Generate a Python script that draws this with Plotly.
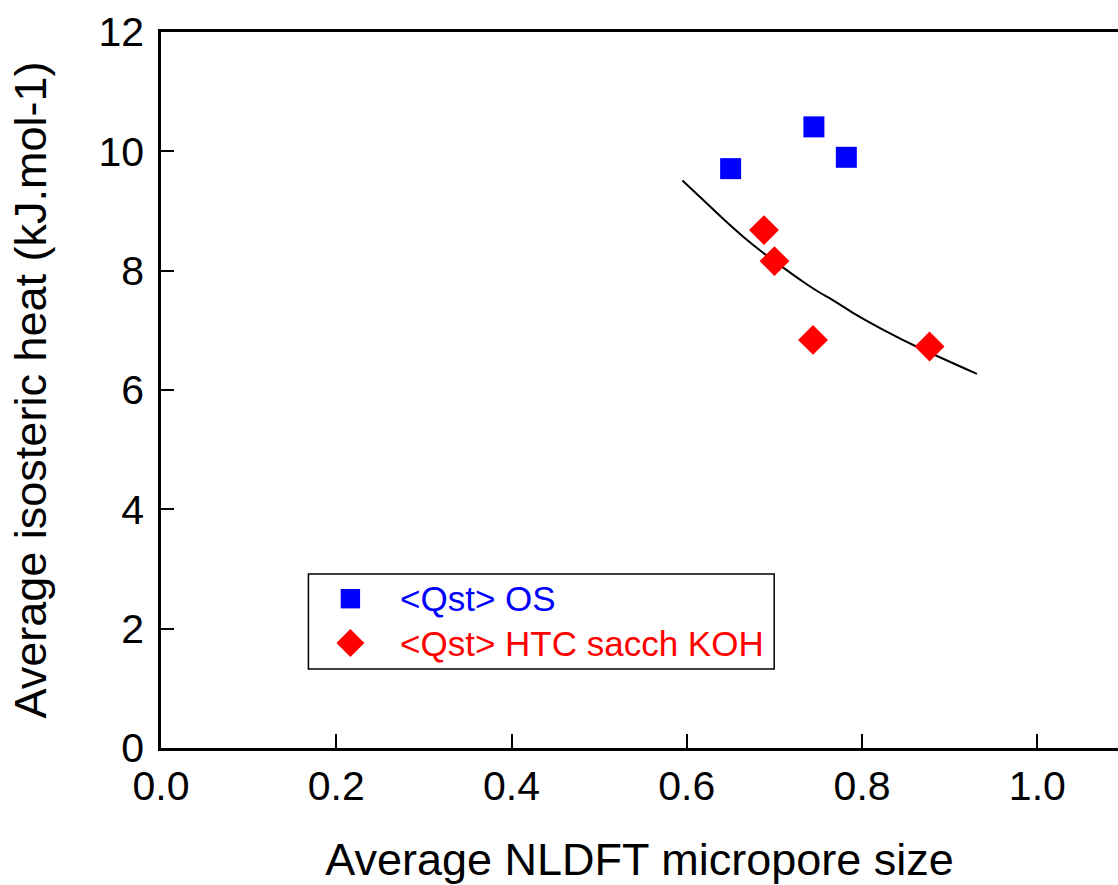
import plotly.graph_objects as go

# Data
os_x = [0.650, 0.745, 0.782]
os_y = [9.71, 10.41, 9.90]

htc_x = [0.688, 0.700, 0.744, 0.877]
htc_y = [8.68, 8.16, 6.84, 6.73]

fit_x = [0.595, 0.619, 0.642, 0.665, 0.687, 0.710, 0.733, 0.752, 0.763, 0.790, 0.828, 0.866, 0.931]
fit_y = [9.51, 9.18, 8.86, 8.56, 8.30, 8.05, 7.81, 7.63, 7.54, 7.29, 6.98, 6.70, 6.27]

x_ticks = [0.0, 0.2, 0.4, 0.6, 0.8, 1.0]
x_tick_labels = ["0.0", "0.2", "0.4", "0.6", "0.8", "1.0"]
y_ticks = [0, 2, 4, 6, 8, 10, 12]
y_tick_labels = ["0", "2", "4", "6", "8", "10", "12"]

legend_labels = ["&lt;Qst&gt; OS", "&lt;Qst&gt; HTC sacch KOH"]
legend_colors = ["#0000ff", "#ff0000"]

FONT = "Liberation Sans, Arial, Helvetica, sans-serif"
W, H = 1118, 885
ML, MR, MT, MB = 160.5, 0, 32, 137
PW, PH = W - ML - MR, H - MT - MB


def px_x(p):
    return (p - ML) / PW


def px_y(p):
    return (H - MB - p) / PH


fig = go.Figure()
fig.add_trace(go.Scatter(
    x=fit_x, y=fit_y, mode="lines",
    line=dict(color="black", width=2, shape="spline", smoothing=0.4),
    showlegend=False, hoverinfo="skip"))
fig.add_trace(go.Scatter(
    x=os_x, y=os_y, mode="markers", name="<Qst> OS", showlegend=False,
    marker=dict(symbol="square", size=21, color=legend_colors[0], line=dict(width=0))))
fig.add_trace(go.Scatter(
    x=htc_x, y=htc_y, mode="markers", name="<Qst> HTC sacch KOH", showlegend=False,
    marker=dict(symbol="diamond", size=23, color=legend_colors[1], line=dict(width=0))))

shapes = []
# legend frame
shapes.append(dict(type="rect", xref="paper", yref="paper",
                   x0=px_x(308), x1=px_x(774), y0=px_y(669), y1=px_y(574),
                   line=dict(color="black", width=1.5), fillcolor="white", layer="above"))
# legend symbols
cx, cy1, cy2 = 350, 598.7, 643
hs = 9.7
shapes.append(dict(type="rect", xref="paper", yref="paper",
                   x0=px_x(cx - hs), x1=px_x(cx + hs), y0=px_y(cy1 + hs), y1=px_y(cy1 - hs),
                   line=dict(width=0), fillcolor=legend_colors[0], layer="above"))
hd = 14
shapes.append(dict(type="path", xref="paper", yref="paper",
                   path=f"M {px_x(cx - hd)},{px_y(cy2)} L {px_x(cx)},{px_y(cy2 - hd)} "
                        f"L {px_x(cx + hd)},{px_y(cy2)} L {px_x(cx)},{px_y(cy2 + hd)} Z",
                   line=dict(width=0), fillcolor=legend_colors[1], layer="above"))

annotations = []
for lab, col, cy in zip(legend_labels, legend_colors, [cy1, cy2]):
    annotations.append(dict(
        text=lab, xref="paper", yref="paper", x=px_x(398), y=px_y(cy),
        xanchor="left", yanchor="middle", showarrow=False,
        font=dict(size=35, family=FONT, color=col)))

fig.update_layout(
    width=W, height=H,
    margin=dict(l=ML, r=MR, t=MT, b=MB, autoexpand=False),
    paper_bgcolor="white", plot_bgcolor="white",
    font=dict(family=FONT, color="black"),
    showlegend=False,
    shapes=shapes,
    annotations=annotations,
    xaxis=dict(
        range=[0, 1.092], tickmode="array", tickvals=x_ticks, ticktext=x_tick_labels,
        ticks="inside", ticklen=14, tickwidth=2, tickcolor="black",
        showline=True, linecolor="black", linewidth=2.5, mirror=True,
        showgrid=False, zeroline=False, automargin=False,
        tickfont=dict(size=41, family=FONT),
        title=dict(text="Average NLDFT micropore size", font=dict(size=45, family=FONT), standoff=36),
    ),
    yaxis=dict(
        range=[0, 12], tickmode="array", tickvals=y_ticks, ticktext=y_tick_labels,
        ticks="inside", ticklen=13, tickwidth=2, tickcolor="black",
        showline=True, linecolor="black", linewidth=2.5,
        showgrid=False, zeroline=False, automargin=False,
        ticklabelstandoff=6,
        tickfont=dict(size=41, family=FONT),
        title=dict(text="Average isosteric heat (kJ.mol-1)", font=dict(size=45, family=FONT), standoff=38),
    ),
)

fig.write_html(
    "out.html",
    config={"displayModeBar": False},
    post_script="document.body.style.margin='0';document.body.style.padding='0';",
)
